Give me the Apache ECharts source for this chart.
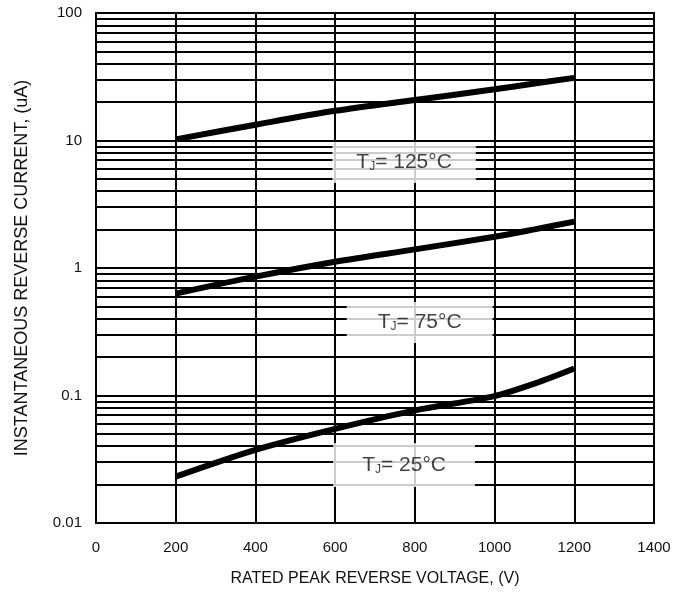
<!DOCTYPE html>
<html>
<head>
<meta charset="utf-8">
<script src="https://cdn.jsdelivr.net/npm/echarts@6/dist/echarts.min.js"></script>
<style>
html,body{margin:0;padding:0;background:#fff;}
#chart{width:686px;height:594px;}
</style>
</head>
<body>
<div id="chart"></div>
<script>
var voltages = [200, 400, 600, 800, 1000, 1100, 1200];
var current125 = [10.2, 13.3, 17.1, 20.8, 25.2, 28.0, 31.0];
var current75 = [0.63, 0.855, 1.12, 1.40, 1.76, 2.01, 2.31];
var current25 = [0.0231, 0.0375, 0.0548, 0.0765, 0.099, 0.124, 0.163];
var labelTexts = ['125°C', '75°C', '25°C'];
var labelX = [773, 812, 773];
var labelY = [6.72, 0.374, 0.0285];
var minorGrid = [];
[0.01, 0.1, 1, 10].forEach(function (d) {
  for (var k = 2; k <= 9; k++) minorGrid.push(+(d * k).toPrecision(3));
});
var majorGrid = [0.1, 1, 10];

function pairs(ys) { return voltages.map(function (v, i) { return [v, ys[i]]; }); }

var chart = echarts.init(document.getElementById('chart'));
var font = 'Liberation Sans, Arial, sans-serif';
var curveStyle = { color: '#000', width: 6 };
var boxPadding = [[9, 24, 10, 24], [9, 31, 10, 31], [11, 29, 11, 29]];

chart.setOption({
  animation: false,
  backgroundColor: '#fff',
  grid: { left: 96, top: 13, right: 32, bottom: 71, show: true, borderColor: '#000', borderWidth: 2, backgroundColor: 'transparent' },
  xAxis: {
    type: 'value', min: 0, max: 1400, interval: 200,
    name: 'RATED PEAK REVERSE VOLTAGE, (V)', nameLocation: 'middle', nameGap: 48,
    nameTextStyle: { fontFamily: font, fontSize: 16, color: '#111' },
    axisLine: { show: true, lineStyle: { color: '#000', width: 2 } },
    axisTick: { show: false },
    axisLabel: { fontFamily: font, fontSize: 15, color: '#111', margin: 17,
      formatter: function (v) { return String(v); } },
    splitLine: { show: true, lineStyle: { color: '#000', width: 2 } }
  },
  yAxis: {
    type: 'log', logBase: 10, min: 0.01, max: 100,
    name: 'INSTANTANEOUS REVERSE CURRENT, (uA)', nameLocation: 'middle', nameGap: 65,
    nameTextStyle: { fontFamily: font, fontSize: 18, color: '#111' },
    axisLine: { show: true, lineStyle: { color: '#000', width: 2 } },
    axisTick: { show: false },
    axisLabel: { fontFamily: font, fontSize: 15, color: '#111', margin: 14,
      formatter: function (v) { return String(+v.toPrecision(3)); } },
    splitLine: { show: false }
  },
  series: [
    {
      type: 'line', data: [], z: 1, silent: true,
      markLine: {
        z: 1, silent: true, symbol: 'none', label: { show: false },
        lineStyle: { color: '#000', width: 2, type: 'solid' },
        data: minorGrid.concat(majorGrid).map(function (v) { return { yAxis: v }; })
      }
    },
    {
      type: 'scatter', z: 3, symbolSize: 0, silent: true,
      data: labelTexts.map(function (t, i) {
        return { value: [labelX[i], labelY[i]], name: t, label: { padding: boxPadding[i] } };
      }),
      label: {
        show: true, position: 'inside',
        formatter: function (p) { return '{t|T}{s|J}{t|= ' + p.name + '}'; },
        backgroundColor: '#fff',
        rich: {
          t: { fontFamily: font, fontSize: 21, color: '#111', lineHeight: 22 },
          s: { fontFamily: font, fontSize: 12, color: '#111', verticalAlign: 'bottom', lineHeight: 16 }
        }
      }
    },
    { name: '125', type: 'line', z: 5, smooth: 0.3, symbol: 'none', data: pairs(current125), lineStyle: curveStyle },
    { name: '75', type: 'line', z: 5, smooth: 0.3, symbol: 'none', data: pairs(current75), lineStyle: curveStyle },
    { name: '25', type: 'line', z: 5, smooth: 0.3, symbol: 'none', data: pairs(current25), lineStyle: curveStyle }
  ]
});
</script>
</body>
</html>
